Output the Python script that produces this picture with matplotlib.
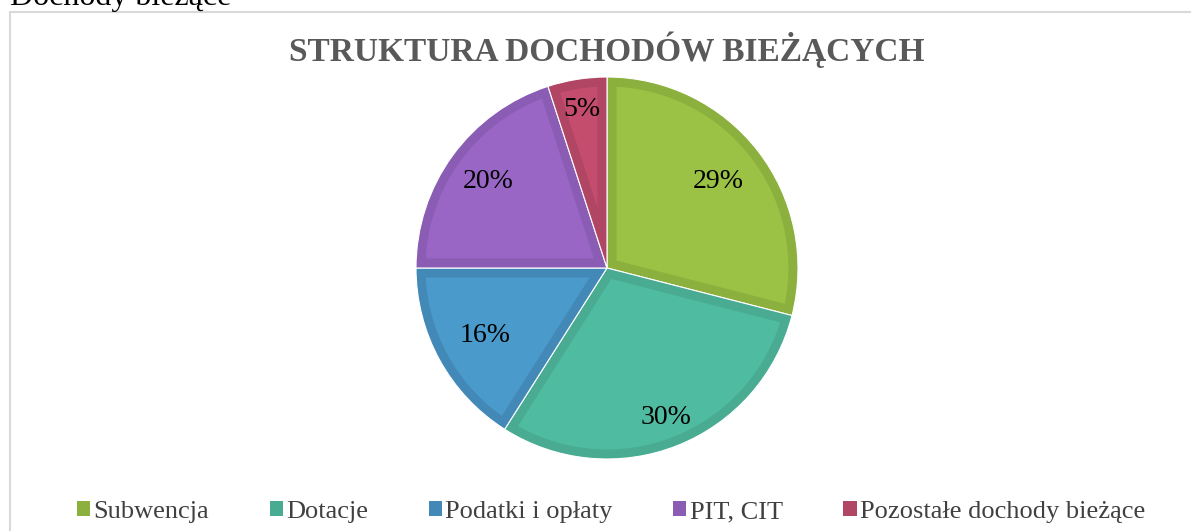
import matplotlib
matplotlib.use("Agg")
import matplotlib.pyplot as plt
import numpy as np
from matplotlib.patches import Rectangle, Patch, Polygon

plt.rcParams["font.family"] = ["Liberation Serif", "DejaVu Serif"]

# data
categories = ["Subwencja", "Dotacje", "Podatki i opłaty", "PIT, CIT", "Pozostałe dochody bieżące"]
shares = [29, 30, 16, 20, 5]
fill_colors = ["#9BC244", "#4FBBA0", "#4A9ACB", "#9966C6", "#C44D6E"]
edge_colors = ["#8CB03E", "#48AB92", "#4389B8", "#8A5CB3", "#B04663"]
label_dist = [0.74, 0.84, 0.73, 0.77, 0.84]

W, H = 1191, 531
fig = plt.figure(figsize=(W / 100, H / 100), dpi=100)

# chart frame
fig.patches.append(Rectangle((10 / W, -0.1), 1.2, 1 - 12 / H + 0.1, transform=fig.transFigure,
                             fill=False, edgecolor="#D9D9D9", linewidth=1.5))

fig.text(10 / W, 1 - 5 / H, "Dochody bieżące", fontsize=23, ha="left", va="baseline", color="black")
fig.text(607 / W, 1 - 50 / H, "STRUKTURA DOCHODÓW BIEŻĄCYCH", fontsize=24, fontweight="bold",
         ha="center", va="center", color="#595959")

cx, cy, r = 607, 268, 191
ax = fig.add_axes([(cx - r) / W, (H - cy - r) / H, 2 * r / W, 2 * r / H])
# outer layer = darker border colour
wedges, _ = ax.pie(shares, colors=edge_colors, startangle=90, counterclock=False, radius=1,
                   wedgeprops=dict(linewidth=0.8, edgecolor="white"))

# inner lighter fill, inset from the wedge outline
inset = 0.05
for w, fc in zip(wedges, fill_colors):
    t1, t2 = np.deg2rad(w.theta1), np.deg2rad(w.theta2)
    half = (t2 - t1) / 2
    apex_r = inset / np.sin(half)
    mid = (t1 + t2) / 2
    delta = np.arcsin(inset / (1 - inset))
    arc = np.linspace(t1 + delta, t2 - delta, 80)
    pts = [(apex_r * np.cos(mid), apex_r * np.sin(mid))]
    pts += list(zip((1 - inset) * np.cos(arc), (1 - inset) * np.sin(arc)))
    ax.add_patch(Polygon(pts, closed=True, facecolor=fc, edgecolor="none"))

for w, s, d in zip(wedges, shares, label_dist):
    ang = np.deg2rad((w.theta1 + w.theta2) / 2)
    ax.text(d * np.cos(ang), d * np.sin(ang), f"{s}%", fontsize=20, ha="center", va="center")
ax.set_xlim(-1, 1)
ax.set_ylim(-1, 1)
ax.set_aspect("equal")
ax.axis("off")

handles = [Patch(facecolor=c, edgecolor="none") for c in edge_colors]
fig.legend(handles, categories, loc="center", bbox_to_anchor=(611 / W, 1 - 512 / H), ncol=5,
           frameon=False, fontsize=19, handlelength=0.5, handleheight=0.5, handletextpad=0.12,
           columnspacing=2.3, labelcolor="#404040")

fig.savefig("out.png", dpi=100)
